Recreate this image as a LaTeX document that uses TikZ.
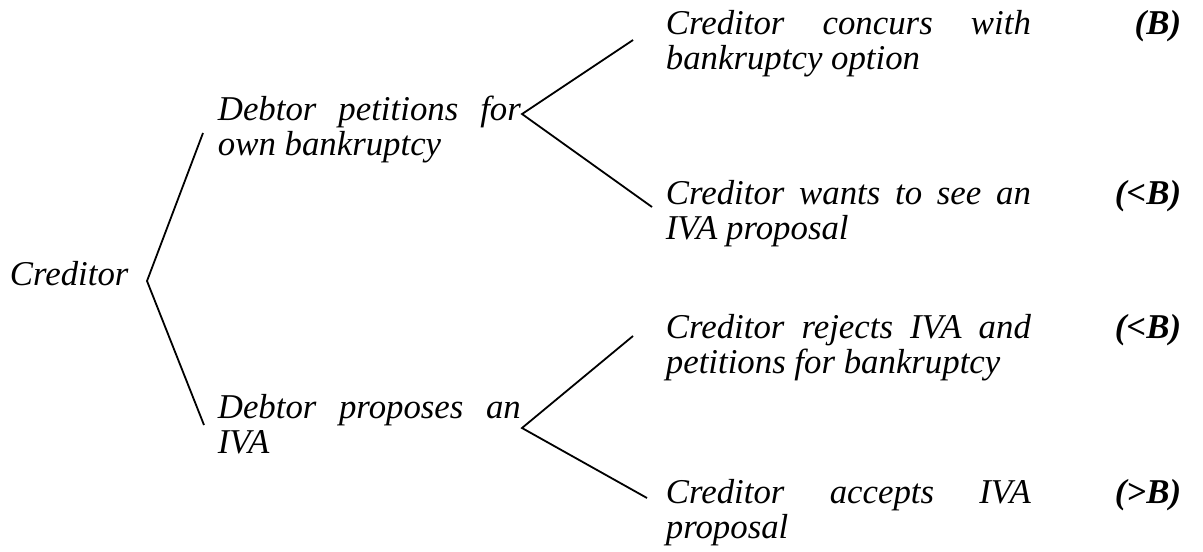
\documentclass[tikz,border=0pt]{standalone}
\usepackage{fontspec}
\setmainfont{Liberation Serif}
\usetikzlibrary{positioning}

\begin{document}
\begin{tikzpicture}[x=0.5pt,y=-0.5pt,line width=0.9pt]
	\tikzstyle{every node}=[inner sep=0pt,font=\fontsize{17.4}{17.5}\selectfont]
	\tikzstyle{choice}=[anchor=base west,font=\fontsize{17.4}{17.5}\selectfont\itshape]
	\tikzstyle{payoff}=[anchor=base east,font=\fontsize{17.4}{17.5}\selectfont\bfseries\itshape]
	\useasboundingbox (0,0) rectangle (1203,551);

	\node[choice] (cred) at (9,285) {Creditor};
	\node[choice] (pet)  at (217,120) {\begin{tabular}[t]{@{}l@{}}\makebox[151.5pt][s]{Debtor petitions for}\\own bankruptcy\end{tabular}};
	\node[choice] (prop) at (217,418) {\begin{tabular}[t]{@{}l@{}}\makebox[151.5pt][s]{Debtor proposes an}\\IVA\end{tabular}};

	\node[choice] (conc) at (665,35)  {\begin{tabular}[t]{@{}l@{}}\makebox[182.5pt][s]{Creditor concurs with}\\bankruptcy option\end{tabular}};
	\node[choice] (want) at (665,204) {\begin{tabular}[t]{@{}l@{}}\makebox[182.5pt][s]{Creditor wants to see an}\\IVA proposal\end{tabular}};
	\node[choice] (rej)  at (665,338) {\begin{tabular}[t]{@{}l@{}}\makebox[182.5pt][s]{Creditor rejects IVA and}\\petitions for bankruptcy\end{tabular}};
	\node[choice] (acc)  at (665,503) {\begin{tabular}[t]{@{}l@{}}\makebox[182.5pt][s]{Creditor accepts IVA}\\proposal\end{tabular}};

	\node[payoff] (pconc) at (1182,35)  {(B)};
	\node[payoff] (pwant) at (1182,204) {(<B)};
	\node[payoff] (prej)  at (1182,338) {(<B)};
	\node[payoff] (pacc)  at (1182,503) {(>B)};

	% fork points and line ends
	\coordinate (f0) at (147,281);
	\coordinate (f0u) at (203,133);
	\coordinate (f0d) at (204,425);
	\coordinate (f1) at (522,114);
	\coordinate (f1u) at (633,40);
	\coordinate (f1d) at (652,207);
	\coordinate (f2) at (522,428);
	\coordinate (f2u) at (633,336);
	\coordinate (f2d) at (647,498);

	\draw (f0u) -- (f0) -- (f0d);
	\draw (f1u) -- (f1) -- (f1d);
	\draw (f2u) -- (f2) -- (f2d);
\end{tikzpicture}
\end{document}
